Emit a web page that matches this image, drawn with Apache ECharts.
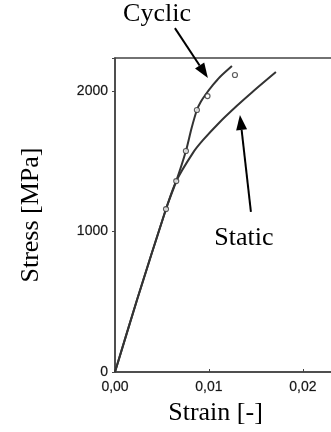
<!DOCTYPE html>
<html>
<head>
<meta charset="utf-8">
<script src="https://cdn.jsdelivr.net/npm/echarts@6/dist/echarts.min.js"></script>
<style>
html,body{margin:0;padding:0;background:#fff;}
#c{width:331px;height:432px;}
</style>
</head>
<body>
<div id="c"></div>
<script>
// Data (strain [-], stress [MPa])
var cyclicCurve = [[0,0],[0.00234,512],[0.00543,1160],[0.00652,1359],[0.00755,1573],[0.00815,1735],[0.00872,1865],[0.00915,1925],[0.00965,1975],[0.01043,2043],[0.01117,2100],[0.01245,2178]];
var cyclicMarkers = [[0.00543,1160],[0.00652,1359],[0.00755,1573],[0.00872,1865],[0.00985,1964],[0.01277,2114]];
var staticCurve = [[0,0],[0.00234,512],[0.00543,1160],[0.00652,1359],[0.00830,1560],[0.00936,1650],[0.01117,1780],[0.01298,1895],[0.01457,1990],[0.01713,2135]];
var xTicks = [0, 0.01, 0.02];
var yTicks = [0, 1000, 2000];
// Annotations in data space: label centre, arrow start, arrow tip
var cyclicNote = {text:'Cyclic', label:[0.00447,2548], from:[0.00638,2448], to:[0.00989,2093]};
var staticNote = {text:'Static', label:[0.01372,954], from:[0.01447,1139], to:[0.0133,1829]};

var chart = echarts.init(document.getElementById('c'), null, {renderer:'canvas'});
var lineCol = '#333';
var tickFont = {fontFamily:'Liberation Sans', fontSize:14, color:'#151515', textBorderColor:'rgba(0,0,0,0.45)', textBorderWidth:0.4};
var option = {
  backgroundColor:'#fff',
  animation:false,
  grid:{left:115, top:58, width:263, height:314, outerBoundsMode:'none', containLabel:false,
        show:true, borderColor:'#444', borderWidth:1.5, backgroundColor:'transparent'},
  xAxis:{
    type:'value', min:0, max:0.028, interval:0.01,
    name:'Strain [-]', nameLocation:'middle', nameGap:28,
    nameTextStyle:{fontFamily:'Liberation Serif', fontSize:26, color:'#000', padding:[0,62,0,0]},
    axisLine:{show:true, lineStyle:{color:'#444', width:1.5}},
    axisTick:{show:true, inside:true, length:3, lineStyle:{color:'#444'}},
    splitLine:{show:false},
    axisLabel:Object.assign({margin:8, showMaxLabel:false,
      formatter:function(v){ return xTicks.indexOf(Math.round(v*100)/100)>=0 ? v.toFixed(2).replace('.',',') : ''; }}, tickFont)
  },
  yAxis:{
    type:'value', min:0, max:2235, interval:1000,
    name:'Stress [MPa]', nameLocation:'middle', nameGap:71,
    nameTextStyle:{fontFamily:'Liberation Serif', fontSize:26, color:'#000'},
    axisLine:{show:true, lineStyle:{color:'#444', width:1.5}},
    axisTick:{show:true, inside:false, length:3, lineStyle:{color:'#444'}},
    splitLine:{show:false},
    axisLabel:Object.assign({margin:7,
      formatter:function(v){ return yTicks.indexOf(v)>=0 ? String(v) : ''; }}, tickFont)
  },
  series:[
    {type:'line', name:'Cyclic', data:cyclicCurve, smooth:0.25, showSymbol:false, lineStyle:{color:lineCol, width:2}, z:2},
    {type:'line', name:'Static', data:staticCurve, smooth:0.25, showSymbol:false, lineStyle:{color:lineCol, width:2}, z:2},
    {type:'scatter', name:'Cyclic tests', data:cyclicMarkers, symbol:'circle', symbolSize:5,
      itemStyle:{color:'#fff', borderColor:lineCol, borderWidth:1.2}, z:3}
  ]
};
chart.setOption(option);

function arrow(note){
  var p = chart.convertToPixel({gridIndex:0}, note.label);
  var s = chart.convertToPixel({gridIndex:0}, note.from);
  var t = chart.convertToPixel({gridIndex:0}, note.to);
  var dx = t[0]-s[0], dy = t[1]-s[1], L = Math.sqrt(dx*dx+dy*dy);
  var ux = dx/L, uy = dy/L, nx = -uy, ny = ux;
  var hl = 15, hw = 5.5;
  var bx = t[0]-ux*hl, by = t[1]-uy*hl;
  return [
    {type:'text', x:p[0], y:p[1], style:{text:note.text, fontFamily:'Liberation Serif', fontSize:26, fill:'#000', align:'center', verticalAlign:'middle'}, z:10},
    {type:'line', shape:{x1:s[0], y1:s[1], x2:bx, y2:by}, style:{stroke:'#000', lineWidth:2}, z:10},
    {type:'polygon', shape:{points:[[t[0],t[1]],[bx+nx*hw,by+ny*hw],[bx-nx*hw,by-ny*hw]]}, style:{fill:'#000'}, z:10}
  ];
}
chart.setOption({graphic:{elements:arrow(cyclicNote).concat(arrow(staticNote))}});
</script>
</body>
</html>
